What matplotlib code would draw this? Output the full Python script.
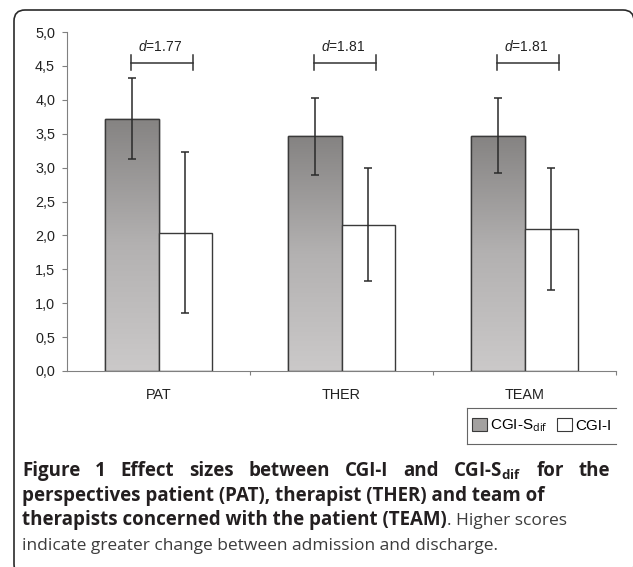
import numpy as np
import matplotlib.pyplot as plt
from matplotlib.colors import LinearSegmentedColormap
from matplotlib.patches import FancyBboxPatch, Patch
from matplotlib.lines import Line2D
from matplotlib.transforms import IdentityTransform
from matplotlib.ticker import FuncFormatter

plt.rcParams['font.family'] = ['Liberation Sans', 'DejaVu Sans']
plt.rcParams['mathtext.fontset'] = 'custom'
plt.rcParams['mathtext.rm'] = 'Liberation Sans'
plt.rcParams['mathtext.it'] = 'Liberation Sans:italic'

# Datos
categorias = ['PAT', 'THER', 'TEAM']
cgi_s_dif = [3.72, 3.46, 3.47]
cgi_s_dif_sd = [0.60, 0.57, 0.55]
cgi_i = [2.04, 2.16, 2.10]
cgi_i_sd = [1.19, 0.83, 0.90]
efecto_d = ['1.77', '1.81', '1.81']
nivel_d = 4.55

W, H = 633, 567
fig = plt.figure(figsize=(W / 100, H / 100), dpi=100)


def fx(px):
    return px / W


def fy(py):
    return 1 - py / H


ax = fig.add_axes([fx(67), fy(371), fx(616) - fx(67), fy(32) - fy(371)])

x = np.arange(len(categorias))
ancho = 0.29
gris = LinearSegmentedColormap.from_list('g', ['#cbc9c9', '#b3b1b1', '#858382'])

barras = ax.bar(x - ancho, cgi_s_dif, ancho, align='edge', color='#a09e9d',
                edgecolor='#3a3a3a', linewidth=1, zorder=2)
grad = np.linspace(0, 1, 256).reshape(-1, 1)
for b in barras:
    x0, w, h = b.get_x(), b.get_width(), b.get_height()
    im = ax.imshow(grad, cmap=gris, origin='lower', aspect='auto',
                   extent=[x0, x0 + w, 0, h], zorder=2.1)
    im.set_clip_path(b)
ax.bar(x - ancho, cgi_s_dif, ancho, align='edge', color='none',
       edgecolor='#3a3a3a', linewidth=1, zorder=2.2)
ax.bar(x, cgi_i, ancho, align='edge', color='white',
       edgecolor='#3a3a3a', linewidth=1, zorder=2.2)

ax.errorbar(x - ancho / 2, cgi_s_dif, yerr=cgi_s_dif_sd, fmt='none',
            ecolor='#2a2a2a', elinewidth=1.1, capsize=3, capthick=1.1, zorder=3)
ax.errorbar(x + ancho / 2, cgi_i, yerr=cgi_i_sd, fmt='none',
            ecolor='#2a2a2a', elinewidth=1.1, capsize=3, capthick=1.1, zorder=3)

# corchetes con el tamaño del efecto
for xi, d in zip(x, efecto_d):
    ax.plot([xi - 0.15, xi + 0.19], [nivel_d, nivel_d], color='#333333', lw=1.1)
    for xe in (xi - 0.15, xi + 0.19):
        ax.plot([xe, xe], [nivel_d - 0.11, nivel_d + 0.11], color='#333333', lw=1.1)
    ax.text(xi + 0.01, nivel_d + 0.23, '$d$=' + d, ha='center', va='center',
            fontsize=10, color='#222222')

ax.set_xlim(-0.5, 2.5)
ax.set_ylim(0, 5)
ax.set_yticks(np.arange(0, 5.01, 0.5))
ax.yaxis.set_major_formatter(FuncFormatter(lambda v, p: f'{v:.1f}'.replace('.', ',')))
ax.set_xticks([0.5, 1.5, 2.5])
ax.set_xticklabels([])
ax.set_xticks(x, minor=True)
ax.set_xticklabels(categorias, minor=True)
ax.tick_params(axis='x', which='major', length=3, color='#808080', width=0.8)
ax.tick_params(axis='x', which='minor', length=0, pad=12, labelsize=10.4, labelcolor='#222222')
ax.tick_params(axis='y', length=3.6, pad=5, color='#808080', width=0.8,
               labelsize=10.4, labelcolor='#222222')
for s in ['top', 'right']:
    ax.spines[s].set_visible(False)
for s in ['left', 'bottom']:
    ax.spines[s].set_color('#808080')
    ax.spines[s].set_linewidth(0.8)

# leyenda
manejadores = [Patch(facecolor='#a3a1a0', edgecolor='#3a3a3a', linewidth=0.8),
               Patch(facecolor='white', edgecolor='#3a3a3a', linewidth=0.8)]
fig.legend(manejadores, ['CGI-S$_{\\mathrm{dif}}$', 'CGI-I'], loc='center left',
           bbox_to_anchor=(fx(472), fy(426)), ncol=2, frameon=False, fontsize=11,
           handlelength=1.0, handleheight=0.85, handletextpad=0.2,
           columnspacing=0.55, borderpad=0, borderaxespad=0)
for xs, ys in [([467, 616], [408, 408]), ([467, 616], [444, 444]), ([467, 467], [408, 444])]:
    fig.add_artist(Line2D([fx(v) for v in xs], [fy(v) for v in ys],
                          color='#666666', lw=0.8))

# marco redondeado
fig.add_artist(FancyBboxPatch((14, -8), 620, H - 10 + 8,
                              boxstyle='round,pad=0,rounding_size=11',
                              transform=IdentityTransform(), fill=False,
                              edgecolor='#2a2a2a', linewidth=1.2))

# pie de figura
r = fig.canvas.get_renderer()
fuente = ['Open Sans', 'DejaVu Sans']
tam_b = 13.5
tam_r = 12.5
negro = '#231f20'
gris_txt = '#3c3c3c'


def ancho_px(t):
    return t.get_window_extent(renderer=r).width


linea1 = ['Figure', '1', 'Effect', 'sizes', 'between', 'CGI-I', 'and',
          'CGI-S$_{\\mathbf{dif}}$', 'for', 'the']
plt.rcParams['mathtext.bf'] = 'Open Sans:bold'
plt.rcParams['mathtext.rm'] = 'Open Sans'
textos = [fig.text(0, fy(476), w, fontsize=tam_b, fontweight='bold', family=fuente,
                   color=negro, va='baseline') for w in linea1]
anchos = [ancho_px(t) for t in textos]
hueco = (610 - 22 - sum(anchos)) / (len(linea1) - 1)
pos = 22
for t, a in zip(textos, anchos):
    t.set_x(fx(pos))
    pos += a + hueco

fig.text(fx(22), fy(500.5), 'perspectives patient (PAT), therapist (THER) and team of',
         fontsize=tam_b, fontweight='bold', family=fuente, color=negro, va='baseline')
t3 = fig.text(fx(22), fy(525), 'therapists concerned with the patient (TEAM)',
              fontsize=tam_b, fontweight='bold', family=fuente, color=negro, va='baseline')
fig.text(fx(22 + ancho_px(t3)), fy(525), '. Higher scores', fontsize=tam_r,
         family=fuente, color=gris_txt, va='baseline')
fig.text(fx(22), fy(549.5), 'indicate greater change between admission and discharge.',
         fontsize=tam_r, family=fuente, color=gris_txt, va='baseline')

fig.savefig('out.png', dpi=100)
